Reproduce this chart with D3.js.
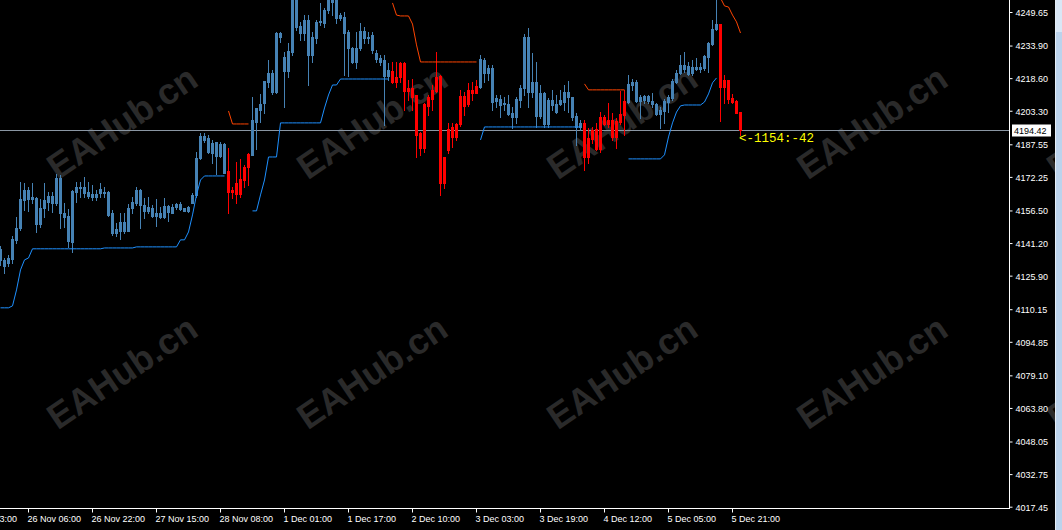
<!DOCTYPE html>
<html>
<head>
<meta charset="utf-8">
<script src="https://cdn.jsdelivr.net/npm/d3@7"></script>
<style>
  html, body { margin:0; padding:0; background:#000; overflow:hidden; }
  svg { display:block; }
</style>
</head>
<body>
<div id="chart"></div>
<script>
// ---------------- DATA (H1 bars) ----------------
// [open, high, low, close]
var bars = [
[4138.5,4139.9,4130.9,4133.3],[4133.3,4134.2,4127.2,4130.5],[4131.9,4135.7,4130.5,4134.2],[4133.8,4144.6,4131.9,4143.2],
[4142.7,4153.5,4141.3,4148.3],[4148.3,4169.9,4147.4,4161.9],[4161.5,4169.4,4156.8,4166.1],[4166.1,4167.5,4156.3,4161.9],
[4161.9,4169.4,4160.0,4162.9],[4162.4,4162.9,4146.4,4150.2],[4150.2,4161.9,4148.8,4157.7],[4157.7,4169.4,4153.5,4161.5],
[4160.5,4165.2,4156.8,4163.3],[4163.3,4165.2,4155.8,4160.0],[4160.0,4173.7,4159.1,4171.8],[4171.8,4173.2,4148.3,4155.4],
[4155.4,4160.0,4148.8,4153.5],[4154.0,4157.2,4139.4,4142.2],[4141.8,4166.1,4137.1,4165.7],[4165.2,4169.9,4160.5,4167.5],
[4167.5,4169.9,4162.9,4167.1],[4167.5,4172.2,4162.9,4164.7],[4165.2,4169.9,4162.4,4163.3],[4162.9,4168.5,4161.5,4164.3],
[4164.3,4166.1,4161.5,4162.9],[4164.7,4169.4,4162.9,4166.6],[4165.2,4167.5,4162.9,4164.7],[4165.2,4165.7,4154.0,4154.4],
[4155.4,4156.8,4145.1,4146.0],[4146.0,4150.7,4144.6,4147.9],[4146.9,4155.4,4143.2,4151.1],[4151.1,4155.4,4146.0,4146.9],
[4146.9,4159.6,4146.9,4157.7],[4157.7,4162.9,4155.4,4160.5],[4160.0,4167.5,4159.1,4166.1],[4166.1,4166.6,4148.3,4159.1],
[4159.1,4162.4,4153.0,4156.3],[4156.3,4162.9,4155.4,4158.2],[4157.7,4159.1,4153.5,4154.0],[4154.0,4161.9,4149.3,4155.4],
[4155.4,4158.2,4153.0,4153.5],[4153.5,4162.4,4153.0,4158.6],[4158.6,4159.1,4151.6,4155.8],[4155.4,4159.6,4155.4,4158.2],
[4158.2,4160.0,4157.2,4159.6],[4159.6,4160.5,4156.8,4157.2],[4157.7,4157.7,4156.3,4156.3],[4156.3,4158.6,4155.8,4158.2],
[4160.0,4164.7,4160.0,4163.8],[4163.8,4184.0,4162.9,4181.2],[4181.2,4192.9,4180.7,4191.5],[4191.5,4192.9,4188.7,4189.6],
[4190.6,4192.0,4183.5,4184.0],[4183.5,4189.6,4178.8,4188.2],[4188.7,4188.7,4173.7,4182.1],[4182.1,4188.7,4181.6,4187.7],
[4187.7,4188.2,4174.1,4174.1],[4175.1,4185.9,4155.4,4165.2],[4165.2,4167.5,4162.4,4166.1],[4169.4,4179.3,4160.0,4164.3],
[4164.3,4180.7,4162.9,4171.3],[4170.8,4177.9,4167.5,4176.9],[4176.9,4183.5,4168.5,4183.0],[4182.6,4209.8,4182.6,4199.0],
[4198.0,4204.6,4185.4,4204.6],[4203.7,4211.2,4198.0,4206.5],[4207.0,4217.3,4202.3,4217.3],[4216.8,4227.1,4214.5,4221.0],
[4221.0,4222.4,4211.2,4212.1],[4212.1,4240.3,4211.7,4239.8],[4239.8,4240.3,4235.6,4237.9],[4222.0,4230.9,4205.1,4228.5],
[4222.0,4235.1,4219.2,4231.4],[4230.9,4262.3,4229.5,4257.6],[4259.0,4262.3,4241.2,4242.6],[4243.1,4245.0,4236.5,4239.8],
[4239.8,4248.2,4236.5,4245.9],[4245.9,4248.2,4215.4,4229.5],[4229.5,4240.3,4226.2,4237.9],[4237.5,4245.9,4235.1,4245.0],
[4245.0,4253.9,4243.6,4245.4],[4244.5,4251.5,4242.6,4250.6],[4250.6,4258.1,4249.2,4256.2],[4254.3,4259.0,4248.2,4257.2],
[4256.7,4257.6,4244.5,4246.8],[4246.8,4249.2,4245.9,4248.2],[4247.3,4249.7,4220.1,4239.8],[4240.3,4241.2,4219.6,4232.8],
[4232.8,4233.2,4225.7,4226.2],[4226.2,4240.3,4223.4,4232.8],[4232.8,4244.5,4231.8,4240.7],[4240.7,4242.6,4235.1,4237.5],
[4237.5,4240.3,4235.1,4237.9],[4238.9,4240.3,4230.4,4231.8],[4230.4,4231.8,4226.2,4227.6],[4228.1,4229.5,4224.8,4226.2],
[4227.1,4229.5,4196.6,4219.6],[4219.6,4225.7,4217.8,4222.4],[4222.0,4226.2,4216.4,4216.8],[4216.8,4226.2,4214.5,4219.2],
[4219.2,4226.2,4216.8,4225.7],[4225.7,4226.2,4203.7,4212.6],[4212.6,4217.8,4208.4,4214.0],[4214.0,4218.2,4203.7,4209.8],
[4210.7,4210.7,4181.6,4192.0],[4192.9,4193.4,4182.6,4185.9],[4185.9,4207.0,4184.0,4206.5],[4205.6,4210.7,4201.3,4209.8],
[4208.8,4215.4,4203.7,4213.1],[4212.6,4230.9,4212.1,4219.2],[4219.6,4220.1,4163.8,4169.4],[4169.4,4181.6,4167.1,4181.6],
[4184.9,4197.6,4183.5,4194.8],[4195.7,4197.6,4186.3,4191.0],[4191.0,4197.6,4189.6,4197.1],[4197.1,4213.1,4196.2,4210.2],
[4210.2,4212.1,4201.3,4205.6],[4206.5,4216.4,4205.6,4213.1],[4213.1,4216.8,4208.4,4211.7],[4211.7,4217.8,4211.7,4214.9],
[4214.5,4229.5,4214.0,4227.6],[4227.1,4228.1,4216.8,4221.0],[4221.0,4224.8,4217.8,4223.4],[4223.4,4224.8,4203.7,4207.4],
[4207.9,4210.7,4205.1,4209.3],[4208.8,4210.7,4200.4,4206.0],[4206.5,4209.8,4203.7,4207.0],[4206.5,4210.7,4201.3,4201.8],
[4202.3,4205.1,4195.2,4200.4],[4200.4,4209.8,4197.6,4208.8],[4208.4,4215.4,4205.1,4214.0],[4214.0,4239.3,4210.7,4237.9],
[4237.9,4242.1,4205.1,4212.1],[4212.1,4230.4,4209.8,4216.8],[4216.8,4226.2,4195.7,4200.9],[4200.9,4215.4,4199.9,4211.7],
[4211.7,4212.1,4195.7,4197.1],[4197.1,4209.3,4195.7,4208.4],[4208.4,4213.1,4203.7,4206.0],[4206.5,4210.7,4202.3,4202.7],
[4206.5,4213.1,4206.0,4208.4],[4207.4,4215.4,4203.7,4212.1],[4212.1,4217.3,4202.7,4209.8],[4209.8,4209.8,4199.0,4200.4],
[4200.9,4202.3,4187.2,4195.7],[4195.7,4199.0,4194.3,4197.6],[4197.6,4199.0,4175.5,4181.6],[4181.6,4195.2,4178.8,4190.6],
[4194.3,4195.7,4188.2,4190.1],[4194.8,4197.6,4184.9,4185.4],[4185.4,4202.7,4184.0,4200.4],[4200.4,4201.3,4196.6,4197.1],
[4197.1,4207.0,4195.7,4199.0],[4199.0,4202.3,4189.6,4191.0],[4191.0,4199.9,4185.9,4198.5],[4198.0,4212.6,4197.1,4201.8],
[4201.3,4213.1,4192.0,4207.9],[4207.4,4220.1,4207.0,4215.9],[4215.4,4218.2,4213.1,4216.8],[4216.8,4217.8,4207.4,4207.9],
[4207.9,4210.7,4199.9,4209.8],[4210.2,4210.7,4207.0,4208.4],[4207.9,4210.7,4207.0,4210.2],[4207.9,4211.7,4205.1,4206.5],
[4206.5,4207.0,4201.3,4201.8],[4201.8,4205.1,4195.2,4203.7],[4203.2,4208.8,4197.6,4207.9],[4207.4,4210.7,4202.7,4209.8],
[4209.3,4218.2,4208.4,4217.3],[4216.8,4222.4,4216.4,4221.0],[4221.0,4229.5,4220.6,4224.8],[4224.8,4230.9,4221.5,4222.9],
[4224.3,4226.2,4220.1,4220.6],[4221.0,4227.1,4220.1,4223.9],[4223.9,4228.1,4222.4,4222.9],[4222.9,4225.7,4221.5,4223.9],
[4223.4,4229.5,4222.4,4229.0],[4228.5,4235.6,4221.5,4235.1],[4234.6,4245.9,4234.2,4241.7],[4241.7,4257.6,4241.2,4244.0],
[4244.0,4244.0,4198.5,4214.5],[4214.5,4220.1,4207.0,4217.8],[4217.8,4217.8,4207.0,4208.8],[4209.3,4211.2,4207.0,4207.4],
[4207.9,4208.4,4202.3,4202.3],[4202.7,4202.7,4192.0,4194.4]
];

// trailing stop line, up trend (blue), one value per bar, null = not drawn
var upLine = [
4110.8,4110.8,4110.8,4111.7,4119.2,4128.6,4133.3,4134.2,
4138.5,4138.5,4138.5,4138.5,4138.5,4138.5,4138.5,4138.5,4138.5,4138.5,4138.5,4138.5,4138.5,4138.5,4138.5,4138.5,4138.5,4138.5,
4138.9,4138.9,4138.9,4138.9,4138.9,4138.9,4138.9,4138.9,
4139.4,4139.4,4139.4,4139.4,4139.4,4139.4,4139.4,4139.4,4139.4,4139.4,4139.4,
4142.7,4142.7,4146.4,4154.4,4163.8,4170.8,4172.7,4172.7,4172.7,4172.7,4172.7,4172.7,
null,null,null,null,null,null,
4156.3,4156.3,4163.8,4170.8,4181.6,4181.6,4181.6,
4197.6,4197.6,4197.6,4197.6,4197.6,4197.6,4197.6,4197.6,4197.6,4197.6,4197.6,
4204.6,4210.7,4215.4,4215.4,
4218.2,4218.2,4218.2,4218.2,4218.2,4218.2,4218.2,4218.2,4218.2,4218.2,4218.2,4218.2,4218.2,
null,null,null,null,null,null,null,null,null,null,null,null,null,null,null,null,null,null,null,null,null,null,
4189.6,
4195.7,4195.7,4195.7,4195.7,4195.7,4195.7,4195.7,4195.7,4195.7,4195.7,4195.7,4195.7,4195.7,
4195.7,4195.7,4195.7,4195.7,4195.7,4195.7,4195.7,4195.7,4195.7,4195.7,4195.7,4195.7,
null,null,null,null,null,null,null,null,null,null,null,
4180.7,4180.7,4180.7,4180.7,4180.7,4180.7,4180.7,4180.7,4180.7,
4182.6,4191.0,4197.6,4202.7,4205.6,4206.0,4206.0,4206.0,4206.0,4206.0,4207.4,4211.2,4216.4,4218.7,
null,null,null,null,null,null
];

// trailing stop line, down trend (red)
var dnLine = [
null,null,null,null,null,null,null,null,null,null,null,null,null,null,null,null,null,null,null,null,
null,null,null,null,null,null,null,null,null,null,null,null,null,null,null,null,null,null,null,null,
null,null,null,null,null,null,null,null,null,null,null,null,null,null,null,null,null,
4203.2,4197.1,4197.1,4197.1,4197.1,4197.1,
null,null,null,null,null,null,null,null,null,null,null,null,null,null,null,null,null,null,
null,null,null,null,null,null,null,null,null,null,null,null,null,null,null,null,null,
4253.9,4248.2,4247.8,4247.8,4247.8,4244.0,4234.2,
4226.2,4226.2,4226.2,4226.2,4226.2,4226.2,4226.2,4226.2,4226.2,4226.2,4226.2,4226.2,4226.2,4226.2,4226.2,
null,null,null,null,null,null,null,null,null,null,null,null,null,
null,null,null,null,null,null,null,null,null,null,null,null,null,
4215.9,4213.1,4213.1,4213.1,4213.1,4213.1,4213.1,4213.1,4213.1,4213.1,4213.1,
null,null,null,null,null,null,null,null,null,null,null,null,null,null,null,null,null,null,null,null,null,null,null,
4256.2,4252.5,4252.0,4248.2,4245.0,4239.8
];

var priceTicks = [4249.65,4233.90,4218.60,4203.30,4187.55,4172.25,4156.50,4141.20,
                  4125.90,4110.15,4094.85,4079.10,4063.80,4048.05,4032.75,4017.45];

var timeTickBars = [-9,7,23,39,55,71,87,103,119,135,151,167,183];
var timeTickLabels = ["25 Nov 13:00","26 Nov 06:00","26 Nov 22:00","27 Nov 15:00","28 Nov 08:00",
                      "1 Dec 01:00","1 Dec 17:00","2 Dec 10:00","3 Dec 03:00","3 Dec 19:00",
                      "4 Dec 12:00","5 Dec 05:00","5 Dec 21:00"];

var bid = 4194.42;
var infoText = "<-1154:-42";
var watermarkText = "EAHub.cn";

// ---------------- LAYOUT ----------------
var width = 1062, height = 530;
var plotW = 1009, plotH = 508;
var up_color = "#4682B4", dn_color = "#FF0000";
var upline_color = "#1E90FF", dnline_color = "#FF4500";
var axisFont = "9px 'Liberation Sans', Arial, sans-serif";

var svg = d3.select("#chart").append("svg")
  .attr("width", width)
  .attr("height", height)
  .style("background", "#000");

// watermark
var wm = svg.append("g").attr("id", "watermark");
[122, 372, 622, 872, 1122].forEach(function(cx){
  [122, 372].forEach(function(cy){
    wm.append("text")
      .attr("transform", "translate(" + cx + "," + cy + ") rotate(-34)")
      .attr("text-anchor", "middle")
      .attr("dy", "0.35em")
      .style("font", "bold 36px 'Liberation Sans', Arial, sans-serif")
      .style("fill", "#2a2a2a")
      .text(watermarkText);
  });
});

var x = d3.scaleLinear().domain([0, bars.length - 1]).range([0, (bars.length - 1) * 4]);
var y = d3.scaleLinear().domain([4017.45, 4249.65]).range([506.7, 12]);

svg.append("clipPath").attr("id", "plot_clip")
  .append("rect").attr("x", 0).attr("y", 0).attr("width", plotW).attr("height", plotH);

var plot = svg.append("g").attr("clip-path", "url(#plot_clip)");

// bid line
var yb = Math.round(y(bid)) + 0.5;
plot.append("line")
  .attr("x1", 0).attr("x2", plotW).attr("y1", yb).attr("y2", yb)
  .style("stroke", "#8a96a3").style("stroke-width", 1);

// candles
var g_candles = plot.append("g").attr("id", "candles");
bars.forEach(function(b, i){
  var col = dnLine[i] != null ? dn_color : up_color;
  var cx = Math.round(x(i));
  g_candles.append("line")
    .attr("x1", cx + 0.5).attr("x2", cx + 0.5)
    .attr("y1", Math.round(y(b[1]))).attr("y2", Math.round(y(b[2])) + 1)
    .style("stroke", col).style("stroke-width", 1);
  var top = Math.round(y(Math.max(b[0], b[3])));
  var bot = Math.round(y(Math.min(b[0], b[3])));
  g_candles.append("rect")
    .attr("x", cx - 1).attr("y", top)
    .attr("width", 3).attr("height", Math.max(1, bot - top + 1))
    .style("fill", col);
});

// trailing lines
var line = d3.line()
  .defined(function(d){ return d != null; })
  .x(function(d, i){ return x(i) + 0.5; })
  .y(function(d){ return y(d); });

plot.append("path").datum(upLine).attr("d", line)
  .style("fill", "none").style("stroke", upline_color).style("stroke-width", 1);
plot.append("path").datum(dnLine).attr("d", line)
  .style("fill", "none").style("stroke", dnline_color).style("stroke-width", 1);

// info text next to last bar
plot.append("text")
  .attr("x", x(bars.length - 1) - 1).attr("y", 141.5)
  .style("font", "12.5px 'Liberation Mono', 'DejaVu Sans Mono', monospace")
  .style("fill", "#FFFF00")
  .text(infoText);

// frame lines
svg.append("line").attr("x1", plotW + 0.5).attr("x2", plotW + 0.5).attr("y1", 0).attr("y2", plotH + 1)
  .style("stroke", "#fff");
svg.append("line").attr("x1", 0).attr("x2", plotW + 1).attr("y1", plotH + 0.5).attr("y2", plotH + 0.5)
  .style("stroke", "#fff");

// price axis
var y_axis = d3.axisRight(y)
  .tickValues(priceTicks)
  .tickFormat(function(d){ return d.toFixed(2); })
  .tickSize(3).tickPadding(3);
var g_y = svg.append("g").attr("transform", "translate(" + (plotW + 0.5) + ",0)").call(y_axis);
g_y.select(".domain").remove();
g_y.selectAll("line").style("stroke", "#fff");
g_y.selectAll("text").style("font", axisFont).style("fill", "#fff").attr("dy", "0.38em");

// time axis
var x_axis = d3.axisBottom(x)
  .tickValues(timeTickBars)
  .tickFormat(function(d, i){ return timeTickLabels[i]; })
  .tickSize(4).tickPadding(3);
var g_x = svg.append("g").attr("transform", "translate(0," + (plotH + 0.5) + ")").call(x_axis);
g_x.select(".domain").remove();
g_x.selectAll("line").style("stroke", "#fff");
g_x.selectAll("text").style("font", axisFont).style("fill", "#fff")
  .attr("text-anchor", "start").attr("x", -1);

// bid label
var g_bid = svg.append("g");
g_bid.append("rect").attr("x", plotW + 3).attr("y", yb - 6).attr("width", 39).attr("height", 12)
  .style("fill", "#fff");
g_bid.append("text").attr("x", plotW + 5).attr("y", yb + 3.5)
  .style("font", axisFont).style("fill", "#000").text(bid.toFixed(2));

// window border on the right
svg.append("rect").attr("x", 1055).attr("y", 0).attr("width", 1).attr("height", height).style("fill", "#e6eef7");
svg.append("rect").attr("x", 1056).attr("y", 0).attr("width", 6).attr("height", height).style("fill", "#bcd3ec");
svg.append("rect").attr("x", 1056).attr("y", 0).attr("width", 6).attr("height", 32).style("fill", "#d9e7f6");
</script>
</body>
</html>
